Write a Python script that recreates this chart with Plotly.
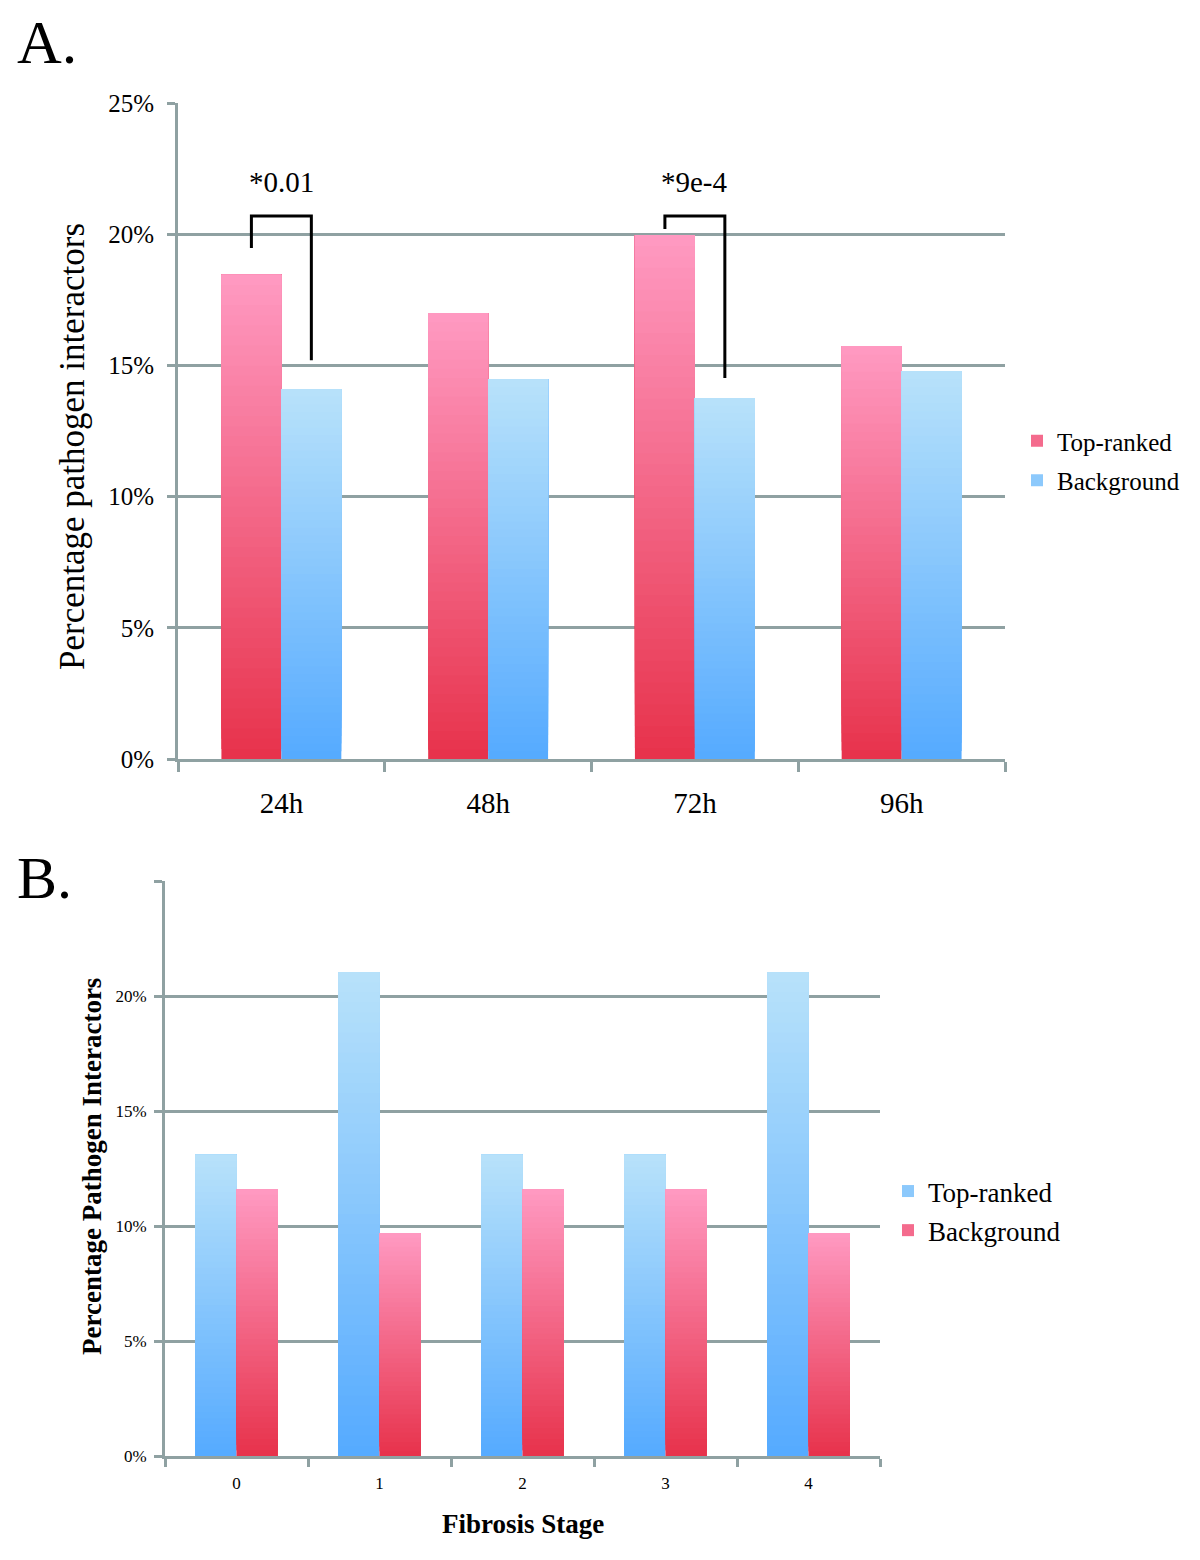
import plotly.graph_objects as go

# ---------------- data ----------------
a_categories = ["24h", "48h", "72h", "96h"]
a_top_ranked = [0.1845, 0.170, 0.1997, 0.1574]
a_background = [0.141, 0.1448, 0.1376, 0.1479]

b_categories = ["0", "1", "2", "3", "4"]
b_top_ranked = [0.131, 0.2104, 0.131, 0.131, 0.2104]
b_background = [0.116, 0.097, 0.116, 0.116, 0.097]

y_tick_vals = [0, 0.05, 0.10, 0.15, 0.20, 0.25]
a_y_tick_text = ["0%", "5%", "10%", "15%", "20%", "25%"]
b_y_tick_text = ["0%", "5%", "10%", "15%", "20%", ""]

# significance brackets in panel A (group index, left end, top, right end, label)
bracket_groups = [0, 2]
bracket_left_y = [0.1947, 0.2020]
bracket_top_y = [0.2069, 0.2069]
bracket_right_y = [0.1520, 0.1452]
bracket_labels = ["*0.01", "*9e-4"]
bracket_label_y = [0.2200, 0.2200]

# ---------------- style ----------------
FONT = "Liberation Serif"
AXIS_COLOR = "#8fa1a2"
PINK_TOP, PINK_BOTTOM = (255, 154, 194), (231, 50, 75)
BLUE_TOP, BLUE_BOTTOM = (184, 226, 250), (85, 170, 255)
N_SEG = 48
BAR_W = 0.29
W, H = 1200, 1560
OFF = 8  # browser body margin


def px_x(x):
    return (x - OFF) / W


def px_y(y):
    return 1 - (y - OFF) / H


def mix(c0, c1, t):
    return "rgb(%d,%d,%d)" % tuple(round(a + (b - a) * t) for a, b in zip(c0, c1))


def gradient_bars(fig, xs, vals, offset, c_bottom, c_top, xa, ya, name, legend):
    for k in range(N_SEG):
        t = (k + 0.5) / N_SEG
        base = [v * k / N_SEG for v in vals]
        fig.add_trace(go.Bar(
            x=xs, y=[v - b for v, b in zip(vals, base)], base=base,
            offset=offset, width=BAR_W,
            marker=dict(color=mix(c_bottom, c_top, t), line=dict(width=0)),
            xaxis=xa, yaxis=ya, name=name, legend=legend, legendgroup=legend + name,
            showlegend=(k == int(N_SEG * 0.55)), hoverinfo="skip",
        ))


fig = go.Figure()
a_x = list(range(len(a_categories)))
b_x = list(range(len(b_categories)))

gradient_bars(fig, a_x, a_top_ranked, -BAR_W, PINK_BOTTOM, PINK_TOP, "x", "y", "Top-ranked", "legend")
gradient_bars(fig, a_x, a_background, 0, BLUE_BOTTOM, BLUE_TOP, "x", "y", "Background", "legend")
gradient_bars(fig, b_x, b_top_ranked, -BAR_W, BLUE_BOTTOM, BLUE_TOP, "x2", "y2", "Top-ranked", "legend2")
gradient_bars(fig, b_x, b_background, 0, PINK_BOTTOM, PINK_TOP, "x2", "y2", "Background", "legend2")

a_dom_x = [px_x(178), px_x(1005)]
a_dom_y = [px_y(759), px_y(103)]
b_dom_x = [px_x(165), px_x(880)]
b_dom_y = [px_y(1456), px_y(881)]


def xaxis(domain, anchor, n, labels, size, standoff, ticklen):
    return dict(
        domain=domain, anchor=anchor, range=[-0.5, n - 0.5],
        tickmode="array", tickvals=list(range(n)), ticktext=labels, ticks="",
        tickfont=dict(family=FONT, size=size, color="black"),
        ticklabelstandoff=standoff, automargin=False,
        showline=True, linecolor=AXIS_COLOR, linewidth=3,
        showgrid=False, zeroline=False, fixedrange=True,
        minor=dict(tickmode="array", tickvals=[i - 0.5 for i in range(n + 1)],
                   ticks="outside", ticklen=ticklen, tickwidth=3,
                   tickcolor=AXIS_COLOR, showgrid=False),
    )


def yaxis(domain, anchor, labels, size, standoff, ticklen):
    return dict(
        domain=domain, anchor=anchor, range=[0, 0.25],
        tickmode="array", tickvals=y_tick_vals, ticktext=labels,
        ticks="outside", ticklen=ticklen, tickwidth=3, tickcolor=AXIS_COLOR,
        tickfont=dict(family=FONT, size=size, color="black"),
        ticklabelstandoff=standoff, automargin=False,
        showline=True, linecolor=AXIS_COLOR, linewidth=3,
        showgrid=True, gridcolor=AXIS_COLOR, gridwidth=3,
        zeroline=False, fixedrange=True,
    )


# brackets
shapes = []
annotations = []
for g, yl, yt, yr, lab, ly in zip(bracket_groups, bracket_left_y, bracket_top_y,
                                  bracket_right_y, bracket_labels, bracket_label_y):
    x0 = g - BAR_W / 2
    x1 = g + BAR_W / 2
    shapes.append(dict(type="path", xref="x", yref="y",
                       path=f"M {x0},{yl} L {x0},{yt} L {x1},{yt} L {x1},{yr}",
                       line=dict(color="black", width=3)))
    annotations.append(dict(x=g, y=ly, xref="x", yref="y", text=lab, showarrow=False,
                            font=dict(family=FONT, size=29, color="black")))

annotations += [
    dict(x=px_x(15), y=px_y(42), xref="paper", yref="paper", xanchor="left", yanchor="middle",
         text="A.", showarrow=False, font=dict(family=FONT, size=62, color="black")),
    dict(x=px_x(15), y=px_y(878), xref="paper", yref="paper", xanchor="left", yanchor="middle",
         text="B.", showarrow=False, font=dict(family=FONT, size=60, color="black")),
    dict(x=px_x(72), y=px_y(447), xref="paper", yref="paper", xanchor="center", yanchor="middle",
         text="Percentage pathogen interactors", textangle=-90, showarrow=False,
         font=dict(family=FONT, size=35, color="black")),
    dict(x=px_x(92), y=px_y(1167), xref="paper", yref="paper", xanchor="center", yanchor="middle",
         text="<b>Percentage Pathogen Interactors</b>", textangle=-90, showarrow=False,
         font=dict(family=FONT, size=27, color="black")),
    dict(x=px_x(523), y=px_y(1524), xref="paper", yref="paper", xanchor="center", yanchor="middle",
         text="<b>Fibrosis Stage</b>", showarrow=False,
         font=dict(family=FONT, size=27, color="black")),
]

fig.update_layout(
    width=W, height=H, margin=dict(l=0, r=0, t=0, b=0, pad=0, autoexpand=False),
    paper_bgcolor="white", plot_bgcolor="white",
    barmode="overlay", showlegend=True,
    xaxis=xaxis(a_dom_x, "y", len(a_categories), a_categories, 29, 16, 10),
    yaxis=yaxis(a_dom_y, "x", a_y_tick_text, 25, 8, 8),
    xaxis2=xaxis(b_dom_x, "y2", len(b_categories), b_categories, 17, 10, 8),
    yaxis2=yaxis(b_dom_y, "x2", b_y_tick_text, 17, 4, 8),
    legend=dict(x=px_x(1017), y=px_y(418), xanchor="left", yanchor="top",
                font=dict(family=FONT, size=25, color="black"),
                itemwidth=30, bgcolor="rgba(0,0,0,0)", tracegroupgap=4),
    legend2=dict(x=px_x(888), y=px_y(1167), xanchor="left", yanchor="top",
                 font=dict(family=FONT, size=27, color="black"),
                 itemwidth=30, bgcolor="rgba(0,0,0,0)", tracegroupgap=1),
    shapes=shapes, annotations=annotations,
)

fig.write_html("out.html")
